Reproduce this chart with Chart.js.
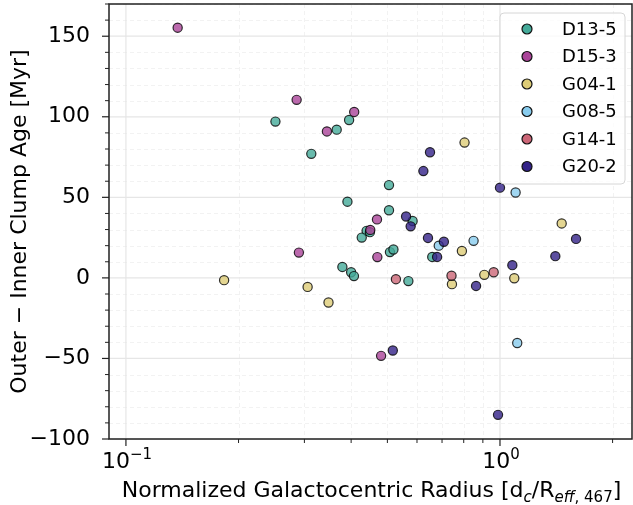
<!DOCTYPE html>
<html>
<head>
<meta charset="utf-8">
<script src="https://cdn.jsdelivr.net/npm/chart.js@4.4.0/dist/chart.umd.min.js"></script>
<style>
  html, body { margin: 0; padding: 0; background: #fff; }
  #caja { width: 633px; height: 505px; }
</style>
</head>
<body>
<div id="caja"><canvas id="miGrafico"></canvas></div>
<script>
// Galaxias y colores
var galaxias = ['D13-5', 'D15-3', 'G04-1', 'G08-5', 'G14-1', 'G20-2'];
var colores = ['#44AA99', '#AA4499', '#DDCC77', '#88CCEE', '#CC6677', '#332288'];

// Radio normalizado (x) y diferencia de edad en Myr (y) por galaxia
var radioD135 = [0.251, 0.395, 0.366, 0.313, 0.391, 0.505, 0.505, 0.584, 0.440, 0.449, 0.427, 0.508, 0.519, 0.659, 0.379, 0.400, 0.407, 0.569];
var edadD135  = [97, 98, 92, 77, 47.3, 57.6, 42, 35.3, 29.2, 28.4, 25, 16, 17.6, 13, 6.8, 3.5, 1.1, -2];

var radioD153 = [0.1375, 0.286, 0.4076, 0.3446, 0.469, 0.450, 0.290, 0.470, 0.481];
var edadD153  = [155.3, 110.5, 103, 90.9, 36.3, 29.8, 15.7, 12.9, -48.4];

var radioG041 = [0.183, 0.306, 0.348, 0.804, 1.462, 0.791, 0.908, 1.092, 0.744];
var edadG041  = [-1.4, -5.6, -15.3, 84, 33.8, 16.7, 1.9, -0.2, -3.9];

var radioG085 = [1.101, 0.850, 0.686, 1.112];
var edadG085  = [53, 23, 20, -40.4];

var radioG141 = [0.962, 0.742, 0.527];
var edadG141  = [3.5, 1.3, -0.8];

var radioG202 = [0.650, 0.624, 1.000, 0.561, 0.577, 0.642, 0.708, 0.679, 1.597, 1.406, 1.079, 0.863, 0.517, 0.988];
var edadG202  = [78, 66.3, 56, 38.1, 32, 24.8, 22.4, 13, 24.2, 13.5, 7.9, -5, -45.1, -85];

var radios = [radioD135, radioD153, radioG041, radioG085, radioG141, radioG202];
var edades = [edadD135, edadD153, edadG041, edadG085, edadG141, edadG202];

// Marcas de los ejes
var ticksXMayores = [0.1, 1];
var exponentesX = ['\u22121', '0'];
var ticksXMenores = [0.2, 0.3, 0.4, 0.5, 0.6, 0.7, 0.8, 0.9, 2];
var ticksYMayores = [-100, -50, 0, 50, 100, 150];
var ticksYMenores = [-90, -80, -70, -60, -40, -30, -20, -10, 10, 20, 30, 40, 60, 70, 80, 90, 110, 120, 130, 140, 160, 170];

var fuente = 'DejaVu Sans';

function conAlfa(hex, a) {
  var r = parseInt(hex.substr(1, 2), 16), g = parseInt(hex.substr(3, 2), 16), b = parseInt(hex.substr(5, 2), 16);
  return 'rgba(' + r + ',' + g + ',' + b + ',' + a + ')';
}

var datasets = galaxias.map(function (nombre, i) {
  return {
    label: nombre,
    data: radios[i].map(function (x, j) { return { x: x, y: edades[i][j] }; }),
    backgroundColor: conAlfa(colores[i], 0.8),
    borderColor: 'rgba(0,0,0,0.8)',
    borderWidth: 1.2,
    pointRadius: 4.6,
    pointHoverRadius: 4.6,
    order: galaxias.length - i
  };
});

// texto con trozos de distinto tamaño (sub/superíndices)
function dibujaTrozos(ctx, trozos, xc, base) {
  var total = 0;
  trozos.forEach(function (p) { ctx.font = p.f; p.w = ctx.measureText(p.t).width; total += p.w; });
  var x0 = xc - total / 2;
  trozos.forEach(function (p) {
    ctx.font = p.f;
    ctx.fillText(p.t, x0, base + (p.dy || 0));
    x0 += p.w;
  });
}

// Rejilla, marcas, marco, leyenda y textos del eje x
var marco = {
  id: 'marco',
  beforeDatasetsDraw: function (chart) {
    var ctx = chart.ctx, a = chart.chartArea;
    var sx = chart.scales.x, sy = chart.scales.y;
    ctx.save();
    ctx.lineWidth = 0.8;
    ctx.strokeStyle = '#efefef';
    ctx.setLineDash([4, 3]);
    ticksXMenores.forEach(function (v) {
      var px = Math.round(sx.getPixelForValue(v)) + 0.5;
      ctx.beginPath(); ctx.moveTo(px, a.top); ctx.lineTo(px, a.bottom); ctx.stroke();
    });
    ticksYMenores.forEach(function (v) {
      var py = Math.round(sy.getPixelForValue(v)) + 0.5;
      ctx.beginPath(); ctx.moveTo(a.left, py); ctx.lineTo(a.right, py); ctx.stroke();
    });
    ctx.setLineDash([]);
    ctx.lineWidth = 1.2;
    ctx.strokeStyle = '#e6e6e6';
    ticksXMayores.forEach(function (v) {
      var px = sx.getPixelForValue(v);
      ctx.beginPath(); ctx.moveTo(px, a.top); ctx.lineTo(px, a.bottom); ctx.stroke();
    });
    ticksYMayores.forEach(function (v) {
      var py = sy.getPixelForValue(v);
      ctx.beginPath(); ctx.moveTo(a.left, py); ctx.lineTo(a.right, py); ctx.stroke();
    });
    ctx.restore();
  },
  afterDraw: function (chart) {
    var ctx = chart.ctx, a = chart.chartArea;
    var sx = chart.scales.x, sy = chart.scales.y;
    ctx.save();

    // marco
    ctx.strokeStyle = '#222';
    ctx.lineWidth = 1.5;
    ctx.strokeRect(a.left, a.top, a.right - a.left, a.bottom - a.top);

    // marcas
    ctx.lineWidth = 1.2;
    ticksXMayores.forEach(function (v) {
      var px = sx.getPixelForValue(v);
      ctx.beginPath(); ctx.moveTo(px, a.bottom); ctx.lineTo(px, a.bottom + 7); ctx.stroke();
    });
    ticksYMayores.forEach(function (v) {
      var py = sy.getPixelForValue(v);
      ctx.beginPath(); ctx.moveTo(a.left, py); ctx.lineTo(a.left - 7, py); ctx.stroke();
    });
    ctx.lineWidth = 1;
    ticksXMenores.forEach(function (v) {
      var px = sx.getPixelForValue(v);
      ctx.beginPath(); ctx.moveTo(px, a.bottom); ctx.lineTo(px, a.bottom + 4); ctx.stroke();
    });
    ticksYMenores.forEach(function (v) {
      var py = sy.getPixelForValue(v);
      ctx.beginPath(); ctx.moveTo(a.left, py); ctx.lineTo(a.left - 4, py); ctx.stroke();
    });

    ctx.fillStyle = '#000';
    ctx.textBaseline = 'alphabetic';
    ctx.textAlign = 'left';

    // etiquetas del eje x: 10 con exponente
    ticksXMayores.forEach(function (v, k) {
      dibujaTrozos(ctx, [
        { t: '10', f: '22px "' + fuente + '"' },
        { t: exponentesX[k], f: '15px "' + fuente + '"', dy: -9 }
      ], sx.getPixelForValue(v) + 1, a.bottom + 29);
    });

    // título del eje x con subíndices
    var normal = '22px "' + fuente + '"';
    var subN = '15px "' + fuente + '"';
    var subI = 'oblique 15px "' + fuente + '"';
    dibujaTrozos(ctx, [
      { t: 'Normalized Galactocentric Radius [d', f: normal },
      { t: 'c', f: subI, dy: 5 },
      { t: '/R', f: normal },
      { t: 'eff', f: subI, dy: 5 },
      { t: ', 467', f: subN, dy: 5 },
      { t: ']', f: normal }
    ], (a.left + a.right) / 2 + 1, a.bottom + 58);

    // leyenda
    var lx = a.right - 132, ly = a.top + 9, lw = 125, lh = 171;
    ctx.beginPath();
    ctx.roundRect(lx, ly, lw, lh, 4);
    ctx.fillStyle = 'rgba(255,255,255,0.8)';
    ctx.fill();
    ctx.strokeStyle = '#d6d6d6';
    ctx.lineWidth = 1;
    ctx.stroke();
    ctx.font = '18px "' + fuente + '"';
    ctx.textBaseline = 'middle';
    chart.data.datasets.forEach(function (ds, i) {
      var yy = ly + 16 + i * 27.5;
      ctx.beginPath();
      ctx.arc(lx + 27, yy, 5, 0, Math.PI * 2);
      ctx.fillStyle = colores[i];
      ctx.fill();
      ctx.strokeStyle = '#111';
      ctx.lineWidth = 1.2;
      ctx.stroke();
      ctx.fillStyle = '#000';
      ctx.fillText(ds.label, lx + 62, yy + 1);
    });
    ctx.restore();
  }
};

function sinRelleno(scale) {
  scale.paddingTop = 0; scale.paddingBottom = 0;
  scale.paddingLeft = 0; scale.paddingRight = 0;
}

var ctx = document.getElementById('miGrafico').getContext('2d');
var miGrafico = new Chart(ctx, {
  type: 'scatter',
  data: { datasets: datasets },
  options: {
    responsive: true,
    maintainAspectRatio: false,
    animation: false,
    events: [],
    layout: { autoPadding: false, padding: { top: 4, right: 1, left: 0, bottom: 0 } },
    plugins: { legend: { display: false }, tooltip: { enabled: false } },
    scales: {
      x: {
        type: 'logarithmic',
        min: 0.0901,
        max: 2.254,
        grid: { display: false },
        border: { display: false },
        ticks: { display: false },
        afterFit: function (scale) { scale.height = 66; sinRelleno(scale); }
      },
      y: {
        min: -100,
        max: 170,
        grid: { display: false },
        border: { display: false },
        afterBuildTicks: function (scale) {
          scale.ticks = ticksYMayores.map(function (v) { return { value: v }; });
        },
        afterFit: function (scale) { scale.width = 109; sinRelleno(scale); },
        ticks: {
          autoSkip: false,
          padding: 11,
          color: '#000',
          font: { family: fuente, size: 22 },
          callback: function (v) { return v < 0 ? '\u2212' + Math.abs(v) : String(v); }
        },
        title: {
          display: true,
          text: 'Outer \u2212 Inner Clump Age [Myr]',
          color: '#000',
          font: { family: fuente, size: 22 },
          padding: { top: 7, bottom: 0 }
        }
      }
    }
  },
  plugins: [marco]
});
</script>
</body>
</html>
